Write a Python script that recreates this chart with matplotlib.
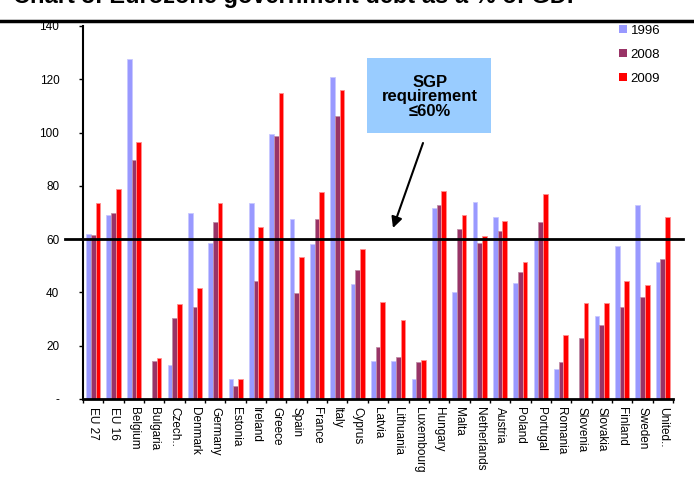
import numpy as np
import matplotlib
matplotlib.use('Agg')
import matplotlib.pyplot as plt
from matplotlib.lines import Line2D
from matplotlib.patches import Patch, Rectangle

plt.rcParams['font.family'] = ['Liberation Sans', 'DejaVu Sans']

countries = ["EU 27", "EU 16", "Belgium", "Bulgaria", "Czech..", "Denmark", "Germany",
             "Estonia", "Ireland", "Greece", "Spain", "France", "Italy", "Cyprus",
             "Latvia", "Lithuania", "Luxembourg", "Hungary", "Malta", "Netherlands",
             "Austria", "Poland", "Portugal", "Romania", "Slovenia", "Slovakia",
             "Finland", "Sweden", "United.."]

debt_1996 = [61.8, 69.2, 127.5, np.nan, 12.9, 69.7, 58.5, 7.4, 73.4, 99.4, 67.7, 58.2,
             120.7, 43.2, 14.3, 14.3, 7.5, 71.6, 40.2, 73.8, 68.2, 43.5, 60.3, 11.3,
             np.nan, 31.1, 57.3, 73.0, 51.4]
debt_2008 = [61.6, 69.7, 89.7, 14.3, 30.3, 34.4, 66.3, 5.0, 44.2, 98.9, 39.7, 67.7,
             106.2, 48.4, 19.5, 15.8, 13.8, 73.0, 63.8, 58.5, 62.9, 47.5, 66.3, 13.8,
             22.9, 27.8, 34.5, 38.3, 52.4]
debt_2009 = [73.4, 78.8, 96.6, 15.3, 35.5, 41.6, 73.4, 7.4, 64.4, 114.9, 53.3, 77.7,
             115.9, 56.2, 36.4, 29.6, 14.8, 78.0, 69.2, 61.2, 66.8, 51.4, 76.9, 23.9,
             35.9, 35.9, 44.2, 42.7, 68.3]

years = ["1996", "2008", "2009"]
colors = ["#9999FF", "#993366", "#FF0000"]
edges = ["#C8C8FF", "#C08FA8", "#FF9090"]

fig = plt.figure(figsize=(6.94, 4.95), dpi=100)
ax = fig.add_axes([83/694, 1-399/495, 590/694, (399-26)/495])
ax.patch.set_alpha(0)

x = np.arange(len(countries))
w = 0.23
for k, vals in enumerate([debt_1996, debt_2008, debt_2009]):
    ax.bar(x + (k-1)*w, vals, width=w, color=colors[k], edgecolor=edges[k],
           linewidth=0.6, zorder=2)

ax.set_xlim(-0.5, len(countries)-0.5)
ax.set_ylim(0, 140)
ax.set_yticks(np.arange(0, 141, 20))
ax.set_yticklabels(["-"] + [str(v) for v in range(20, 141, 20)], fontsize=8.5)
ax.set_xticks(x)
ax.set_xticklabels(countries, rotation=270, fontsize=8.5, va='top', ha='center')
ax.set_xticks(np.arange(-0.5, len(countries), 1), minor=True)
ax.tick_params(axis='x', which='major', length=0, pad=6)
ax.tick_params(axis='x', which='minor', length=3, width=1, direction='out')
ax.tick_params(axis='y', length=3, width=1, direction='out', pad=14)
for s in ['top', 'right']:
    ax.spines[s].set_visible(False)
ax.spines['left'].set_linewidth(1.5)
ax.spines['bottom'].set_linewidth(2)

# 60% line
ax.plot([-0.03, 1.017], [60/140, 60/140], transform=ax.transAxes, color='black',
        linewidth=2, clip_on=False, zorder=3)

# SGP box
fig.add_artist(Rectangle((367/694, 1-133/495), 124/694, 75/495,
                         transform=fig.transFigure, facecolor='#99CCFF',
                         edgecolor='none', zorder=4))
fig.text(430/694, 1-97/495, "SGP\nrequirement\n\u226460%", ha='center', va='center',
         fontsize=12, fontweight='bold', linespacing=0.95, zorder=5)
ax.annotate("", xy=(393/694, 1-228/495), xycoords='figure fraction',
            xytext=(423/694, 1-143/495), textcoords='figure fraction',
            arrowprops=dict(arrowstyle='-|>', color='black', lw=1.5,
                            mutation_scale=16, shrinkA=0, shrinkB=0))

# legend
handles = [Patch(facecolor=c, edgecolor='none') for c in colors]
fig.legend(handles, years, loc='upper left', bbox_to_anchor=(607/694, 1-13/495),
           frameon=False, fontsize=9.5, handlelength=0.6, handleheight=0.6,
           handletextpad=0.3, labelspacing=0.9)

# clipped title and rule
fig.text(13/694, 1-2.5/495, "Chart 3: Eurozone government debt as a % of GDP",
         fontsize=17, fontweight='bold', va='baseline', ha='left')
fig.add_artist(Line2D([0, 1], [1-20.5/495, 1-20.5/495], transform=fig.transFigure,
                      color='black', linewidth=2.5))

fig.savefig("out.png", dpi=100)
